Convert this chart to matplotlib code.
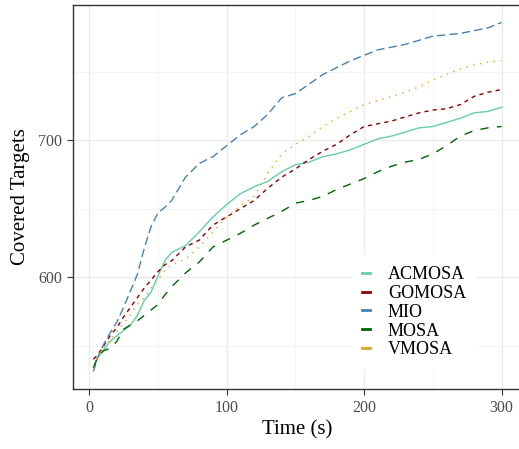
import matplotlib.pyplot as plt
from matplotlib.ticker import MultipleLocator
import numpy as np

plt.rcParams['font.family'] = ['Liberation Serif', 'DejaVu Serif']

# time points (s)
time_s = [3, 6, 10, 15, 20, 25, 30, 35, 40, 45, 50, 55, 60,
          70, 80, 90, 100, 110, 120, 130, 140, 150, 160, 170, 180,
          190, 200, 210, 220, 230, 240, 250, 260, 270, 280, 290, 300]

acmosa = [534, 541, 546, 553, 557, 561, 565, 572, 583, 589, 601, 612, 618,
          623, 633, 644, 653, 661, 666, 670, 677, 682, 684, 688, 690,
          693, 697, 701, 703, 706, 709, 710, 713, 716, 720, 721, 724]
gomosa = [540, 543, 549, 557, 563, 571, 578, 585, 592, 598, 604, 609, 612,
          622, 627, 638, 644, 650, 656, 665, 673, 679, 686, 692, 697,
          704, 710, 712, 714, 717, 720, 722, 723, 726, 732, 735, 737]
mio = [531, 541, 550, 559, 567, 578, 590, 602, 621, 637, 647, 651, 656,
       673, 683, 688, 696, 704, 710, 719, 731, 734, 741, 748, 753,
       758, 762, 766, 768, 770, 773, 776, 777, 778, 780, 782, 786]
mosa = [534, 541, 546, 548, 553, 562, 565, 568, 572, 576, 580, 587, 593,
        603, 611, 622, 627, 632, 638, 643, 648, 654, 656, 659, 664,
        668, 672, 677, 681, 684, 686, 690, 696, 703, 707, 709, 710]
vmosa = [535, 541, 548, 554, 560, 566, 573, 580, 585, 592, 598, 605, 609,
         613, 622, 633, 644, 652, 659, 676, 690, 697, 703, 710, 716,
         721, 726, 729, 732, 735, 739, 744, 748, 752, 755, 757, 758]

series_names = ['ACMOSA', 'GOMOSA', 'MIO', 'MOSA', 'VMOSA']
series_vals = [acmosa, gomosa, mio, mosa, vmosa]
colors = ['#66CDAA', '#8B0000', '#4682B4', '#006400', '#DAA520']
dash_styles = [None, (3, 3), (6, 3), (6, 6), (1, 4)]

fig = plt.figure(figsize=(5.19, 4.49), dpi=100)
ax = fig.add_axes([73 / 519, 1 - 389 / 449, (522 - 73) / 519, (389 - 5) / 449])

for name, vals, col, ds in zip(series_names, series_vals, colors, dash_styles):
    line, = ax.plot(time_s, vals, color=col, lw=1.0, label=name)
    if ds is not None:
        line.set_dashes(ds)

ax.set_xlim(-11.85, 314.85)
ax.set_ylim(518.25, 798.75)
ax.xaxis.set_major_locator(MultipleLocator(100))
ax.xaxis.set_minor_locator(MultipleLocator(50))
ax.yaxis.set_major_locator(MultipleLocator(100))
ax.yaxis.set_minor_locator(MultipleLocator(50))
ax.grid(which='major', color='#EBEBEB', lw=1.0)
ax.grid(which='minor', color='#F2F2F2', lw=0.6)
ax.set_axisbelow(True)

for sp in ax.spines.values():
    sp.set_color('#333333')
    sp.set_linewidth(1.0)
ax.tick_params(which='major', direction='out', length=4, width=0.8,
               color='#333333', labelcolor='#4D4D4D', labelsize=11.5, pad=4)
ax.tick_params(which='minor', length=0)

ax.set_xlabel('Time (s)', fontsize=15, labelpad=3)
ax.set_ylabel('Covered Targets', fontsize=15, labelpad=6)

leg = ax.legend(loc='center', bbox_to_anchor=(0.76, 0.20), frameon=True,
                fontsize=13, handlelength=0.4, handletextpad=1.0,
                labelspacing=0.1, borderpad=0.6)
leg.get_frame().set_facecolor('white')
leg.get_frame().set_edgecolor('none')
leg.get_frame().set_alpha(1.0)
for h in leg.get_lines():
    h.set_linestyle('-')
    h.set_linewidth(2.0)

fig.savefig('out.png', dpi=100)
